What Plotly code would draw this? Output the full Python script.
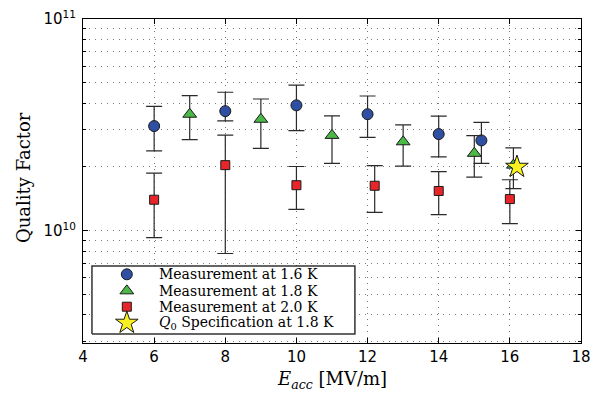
import plotly.graph_objects as go

# Blue circles: measurement at 1.6 K
e16 = [6, 8, 10, 12, 14, 15.2]
q16 = [3.12e10, 3.67e10, 3.91e10, 3.55e10, 2.86e10, 2.67e10]
q16_hi = [3.87e10, 4.51e10, 4.87e10, 4.33e10, 3.48e10, 3.25e10]
q16_lo = [2.38e10, 3.30e10, 2.97e10, 2.76e10, 2.23e10, 2.08e10]

# Green triangles: measurement at 1.8 K
e18 = [7, 9, 11, 13, 15, 16.1]
q18 = [3.55e10, 3.36e10, 2.82e10, 2.63e10, 2.32e10, 2.04e10]
q18_hi = [4.35e10, 4.19e10, 3.49e10, 3.16e10, 2.81e10, 2.46e10]
q18_lo = [2.69e10, 2.45e10, 2.08e10, 2.02e10, 1.79e10, 1.58e10]

# Red squares: measurement at 2.0 K
e20 = [6, 8, 10, 12.2, 14, 16]
q20 = [1.40e10, 2.04e10, 1.64e10, 1.63e10, 1.54e10, 1.41e10]
q20_hi = [1.87e10, 2.83e10, 2.01e10, 2.03e10, 1.90e10, 1.74e10]
q20_lo = [9.27e9, 7.80e9, 1.26e10, 1.22e10, 1.19e10, 1.08e10]

# Specification star
e_spec = [16.2]
q_spec = [2.0e10]

x_ticks = [4, 6, 8, 10, 12, 14, 16, 18]
y_major = [1e10, 1e11]
y_major_text = ["10<sup>10</sup>", "10<sup>11</sup>"]
y_minor = [3e9, 4e9, 5e9, 6e9, 7e9, 8e9, 9e9,
           2e10, 3e10, 4e10, 5e10, 6e10, 7e10, 8e10, 9e10]

series_names = ["Measurement at 1.6 K", "Measurement at 1.8 K",
                "Measurement at 2.0 K", "<i>Q</i><sub>0</sub> Specification at 1.8 K"]
x_title = "<i>E</i><sub><i>acc</i></sub> [MV/m]"
y_title = "Quality Factor"

# styles
BLUE, GREEN, RED, YELLOW = "#2f4fa2", "#4cb848", "#e8262a", "#f8f020"
EDGE = "#1a1a1a"
SERIF = "DejaVu Serif, Liberation Serif, serif"
SANS = "DejaVu Sans, Liberation Sans, sans-serif"
GRID = dict(showgrid=True, gridcolor="#777", griddash="1px,5px", gridwidth=1)

marker_styles = [
    dict(symbol="circle", size=11, color=BLUE, line=dict(color=EDGE, width=1)),
    dict(symbol="triangle-up", size=12, color=GREEN, line=dict(color=EDGE, width=1)),
    dict(symbol="square", size=9, color=RED, line=dict(color=EDGE, width=1)),
    dict(symbol="star", size=17, color=YELLOW, line=dict(color=EDGE, width=1)),
]


def err(q, hi, lo):
    return dict(type="data", symmetric=False,
                array=[h - v for h, v in zip(hi, q)],
                arrayminus=[v - l for v, l in zip(q, lo)],
                color="#2a2a2a", thickness=1.2, width=8)


fig = go.Figure()
fig.add_trace(go.Scatter(x=e16, y=q16, mode="markers", name=series_names[0],
                         error_y=err(q16, q16_hi, q16_lo), marker=marker_styles[0]))
fig.add_trace(go.Scatter(x=e18, y=q18, mode="markers", name=series_names[1],
                         error_y=err(q18, q18_hi, q18_lo), marker=marker_styles[1]))
fig.add_trace(go.Scatter(x=e20, y=q20, mode="markers", name=series_names[2],
                         error_y=err(q20, q20_hi, q20_lo), marker=marker_styles[2]))
fig.add_trace(go.Scatter(x=e_spec, y=q_spec, mode="markers", name=series_names[3],
                         marker=marker_styles[3]))

# ---- hand-made legend (layout positions on an overlay 0..1 axis) ----
leg_x0, leg_x1, leg_y0, leg_y1 = 0.018, 0.546, 0.028, 0.238
leg_marker_x = 0.088
leg_text_x = 0.149
leg_rows = [0.212, 0.161, 0.112, 0.062]

fig.add_trace(go.Scatter(x=[leg_x0, leg_x1, leg_x1, leg_x0, leg_x0],
                         y=[leg_y0, leg_y0, leg_y1, leg_y1, leg_y0],
                         xaxis="x2", yaxis="y2", mode="lines", fill="toself",
                         fillcolor="white", line=dict(color="#333", width=1.5),
                         showlegend=False, hoverinfo="skip"))
for i, (name, ms) in enumerate(zip(series_names, marker_styles)):
    fig.add_trace(go.Scatter(x=[leg_marker_x], y=[leg_rows[i]], xaxis="x2", yaxis="y2",
                             mode="markers", marker=ms, showlegend=False,
                             hoverinfo="skip"))
    fig.add_annotation(x=leg_text_x, y=leg_rows[i], xref="x2", yref="y2",
                       text=name, showarrow=False, xanchor="left", yanchor="middle",
                       font=dict(family=SERIF, size=14, color="#000"))

# axis titles
fig.add_annotation(x=0.5, y=-0.114, xref="paper", yref="paper", text=x_title,
                   showarrow=False, xanchor="center", yanchor="middle",
                   font=dict(family=SERIF, size=18, color="#000"))
fig.add_annotation(x=-0.118, y=0.51, xref="paper", yref="paper", text=y_title,
                   showarrow=False, xanchor="center", yanchor="middle", textangle=-90,
                   font=dict(family=SERIF, size=18, color="#000"))

axis_common = dict(showline=True, linecolor="#000", linewidth=1.1,
                   mirror="ticks", ticks="inside", tickcolor="#000",
                   zeroline=False, automargin=False,
                   tickfont=dict(family=SANS, size=15, color="#000"))

xaxis = dict(range=[4, 18], tickmode="array", tickvals=x_ticks, ticklen=5,
             **GRID, **axis_common)
yaxis = dict(type="log", range=[9.469, 11.0003], tickmode="array", tickvals=y_major,
             ticktext=y_major_text, ticklen=5, ticklabelstandoff=3,
             minor=dict(tickmode="array", tickvals=y_minor, ticks="inside",
                        ticklen=3, tickcolor="#000", showgrid=True,
                        gridcolor="#777", griddash="1px,5px", gridwidth=1),
             **GRID, **axis_common)

# the page adds an 8px body margin, so the figure is 592x388 placed at (8, 8)
fig.update_layout(
    width=592, height=388,
    margin=dict(l=75, r=19, t=11, b=53),
    paper_bgcolor="white", plot_bgcolor="white",
    showlegend=False,
    xaxis=xaxis, yaxis=yaxis,
    xaxis2=dict(overlaying="x", range=[0, 1], visible=False, fixedrange=True),
    yaxis2=dict(overlaying="y", range=[0, 1], visible=False, fixedrange=True),
)

fig.write_html("out.html")
